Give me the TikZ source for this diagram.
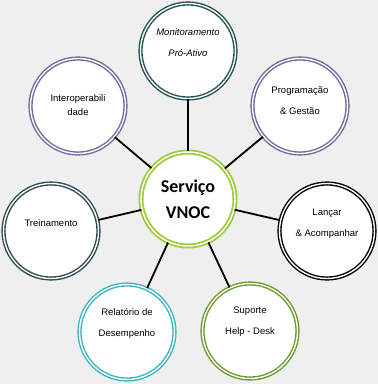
\documentclass[tikz,border=0pt]{standalone}
\usepackage{fontspec}
\setmainfont{Liberation Sans}
\newfontfamily\carl{Carlito}
\definecolor{bgc}{HTML}{EFEFEF}
\definecolor{cTop}{HTML}{1F4F4F}
\definecolor{cPurp}{HTML}{6C6AA0}
\definecolor{cSlate}{HTML}{2A4A50}
\definecolor{cTeal}{HTML}{35B6C0}
\definecolor{cOlive}{HTML}{6A9A2A}
\definecolor{cLime}{HTML}{9CCB3C}
\begin{document}
\begin{tikzpicture}[x=1pt,y=1pt,
  ring/.style={circle, draw=#1, fill=white, line width=1.4pt, double=white, double distance=1.4pt,
    minimum size=95pt, inner sep=0pt},
  lbl/.style={align=center, inner sep=0pt, font=\fontsize{9.5}{21}\selectfont},
  hub/.style={circle, draw=cLime, fill=white, line width=1.8pt, double=white, double distance=1.4pt,
    minimum size=94pt, inner sep=0pt, align=center, font=\carl\bfseries\fontsize{18}{26}\selectfont},
  spoke/.style={draw=black, line width=1.8pt}]
\fill[bgc] (0,0) rectangle (378,-384);
\useasboundingbox (0,0) rectangle (378,-384);
\node[hub] (c) at (188,-199) {Serviço\\VNOC};
\node[ring=cTop] (top) at (188,-51) {};
\node[ring=cPurp] (int) at (78,-106) {};
\node[ring=cPurp] (prog) at (300,-106) {};
\node[ring=cSlate] (trei) at (51,-231) {};
\node[ring=black] (lanc) at (327,-231) {};
\node[ring=cTeal] (rel) at (127,-332) {};
\node[ring=cOlive] (sup) at (250,-331) {};
\node[lbl] (topt) at ([yshift=8]top.center) {\itshape Monitoramento\\\itshape Pró-Ativo};
\node[lbl, font=\fontsize{9.5}{14}\selectfont] (intt) at ([yshift=1]int.center) {Interoperabili\\dade};
\node[lbl] (progt) at ([yshift=5]prog.center) {Programação\\\& Gestão};
\node[lbl] (treit) at ([yshift=8]trei.center) {Treinamento};
\node[lbl] (lanct) at ([yshift=7]lanc.center) {Lançar\\\& Acompanhar};
\node[lbl] (relt) at ([yshift=9]rel.center) {Relatório de\\Desempenho};
\node[lbl] (supt) at ([yshift=9]sup.center) {Suporte\\Help - Desk};
\foreach \n in {top,int,prog,trei,lanc,rel,sup}{
  \draw[spoke] (c) -- (\n);
}
\end{tikzpicture}
\end{document}
